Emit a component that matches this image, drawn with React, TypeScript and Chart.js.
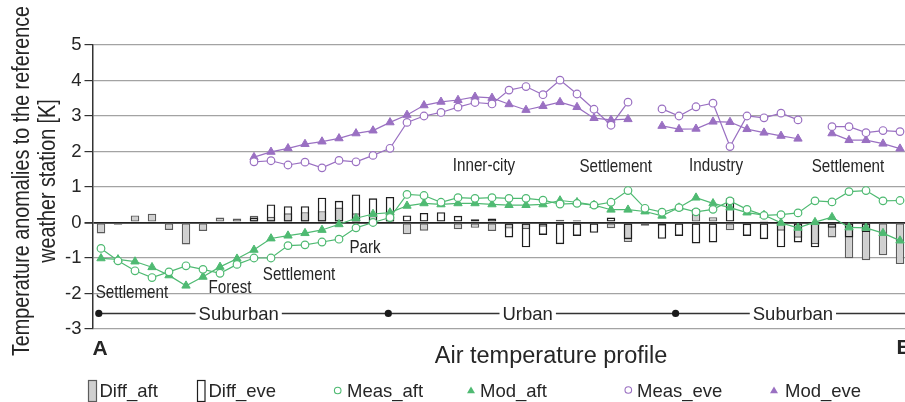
import React, { useEffect, useRef } from 'react';
import { Chart, registerables } from 'chart.js';

Chart.register(...registerables);

// ---------- data ----------
const positions: string[] = Array.from({ length: 48 }, (_, i) => `P${i + 1}`);

const measAft: (number | null)[] = [
  -0.73, -1.08, -1.36, -1.55, -1.39, -1.22, -1.32, -1.43, -1.18, -1.0,
  -1.0, -0.65, -0.63, -0.55, -0.47, -0.15, 0.0, 0.14, 0.79, 0.76,
  0.57, 0.7, 0.68, 0.7, 0.68, 0.68, 0.63, 0.52, 0.54, 0.49,
  0.57, 0.9, 0.4, 0.29, 0.42, 0.3, 0.37, 0.61, 0.37, 0.2,
  0.22, 0.27, 0.61, 0.58, 0.87, 0.9, 0.61, 0.62,
];

const modAft: (number | null)[] = [
  -1.01, -1.04, -1.1, -1.26, -1.49, -1.78, -1.53, -1.25, -1.02, -0.77,
  -0.45, -0.37, -0.3, -0.21, -0.05, 0.12, 0.24, 0.28, 0.47, 0.54,
  0.51, 0.54, 0.54, 0.51, 0.49, 0.49, 0.51, 0.62, 0.57, 0.49,
  0.36, 0.36, 0.31, 0.19, 0.42, 0.7, 0.54, 0.42, 0.28, 0.21,
  -0.01, -0.15, 0.01, 0.15, -0.14, -0.15, -0.3, -0.51,
];

const measEve: (number | null)[] = [
  null, null, null, null, null, null, null, null, null,
  1.71, 1.74, 1.62, 1.7, 1.54, 1.75, 1.71, 1.89, 2.09, 2.82,
  3.0, 3.1, 3.25, 3.38, 3.34, 3.73, 3.83, 3.6, 4.01, 3.62,
  3.19, 2.74, 3.39, null, 3.2, 3.0, 3.26, 3.36, 2.14, 3.0,
  2.95, 3.08, 2.89, null, 2.7, 2.7, 2.53, 2.59, 2.56,
];

const modEve: (number | null)[] = [
  null, null, null, null, null, null, null, null, null,
  1.84, 1.99, 2.09, 2.21, 2.28, 2.37, 2.51, 2.59, 2.82, 3.03,
  3.3, 3.4, 3.45, 3.54, 3.51, 3.33, 3.17, 3.28, 3.39, 3.25,
  2.94, 2.89, 2.91, null, 2.72, 2.63, 2.64, 2.84, 2.83, 2.63,
  2.53, 2.44, 2.36, null, 2.51, 2.32, 2.32, 2.22, 2.08,
];

const diffAft: (number | null)[] = [
  -0.31, -0.06, 0.2, 0.25, -0.21, -0.62, -0.24, 0.14, 0.11, 0.19,
  0.16, 0.26, 0.29, 0.32, 0.42, 0.26, 0.22, 0.12, -0.33, -0.23,
  -0.04, -0.19, -0.15, -0.24, -0.17, -0.19, -0.12, 0.08, 0.06, 0.03,
  -0.16, -0.55, -0.09, -0.09, 0.0, 0.38, 0.15, -0.22, -0.08, 0.05,
  -0.23, -0.43, -0.61, -0.42, -1.01, -1.06, -0.92, -1.17,
];

const diffEve: (number | null)[] = [
  null, null, null, null, null, null, null, null, null,
  0.14,
  0.51, 0.46, 0.46, 0.7, 0.61, 0.79, 0.68, 0.72, 0.2, 0.27,
  0.29, 0.19, 0.09, 0.11, -0.42, -0.7, -0.35, -0.61, -0.38, -0.29,
  0.14, -0.47, null, -0.46, -0.38, -0.59, -0.56, 0.68, -0.38, -0.47,
  -0.7, -0.56, -0.7, -0.15, -0.42, -0.27, null, null,
];

const yMin = -3;
const yMax = 5;
const yStep = 1;

const yTitleLines = ['Temperature anomalies to the reference', 'weather station [K]'];
const xTitle = 'Air temperature profile';
const startLabel = 'A';
const endLabel = 'E';

const areaLabels = ['Settlement', 'Forest', 'Settlement', 'Park', 'Inner-city', 'Settlement', 'Industry', 'Settlement'];
const areaLabelX = [1.82, 7.59, 11.65, 15.53, 22.53, 30.28, 36.18, 43.94];
const areaLabelY = [-1.93, -1.81, -1.43, -0.66, 1.65, 1.62, 1.64, 1.62];

const zoneNames = ['Suburban', 'Urban', 'Suburban'];
const zoneStarts = [-0.13, 16.9, 33.8];
const zoneLabelX = [8.1, 25.1, 40.7];
const zoneLineY = -2.56;

const legendLabels = ['Diff_aft', 'Diff_eve', 'Meas_aft', 'Mod_aft', 'Meas_eve', 'Mod_eve'];

// ---------- styles ----------
const FONT = "'Liberation Sans', Arial, Helvetica, sans-serif";
const TEXT = '#262626';
const GREEN = '#4fba72';
const PURPLE = '#9a70c2';
const BAR_FILL = '#d0d0d0';
const BAR_EDGE = '#5c5c5c';
const EVE_EDGE = '#1e1e1e';

function drawTriangle(ctx: CanvasRenderingContext2D, x: number, y: number, r: number) {
  ctx.beginPath();
  ctx.moveTo(x, y - r);
  ctx.lineTo(x + r * 0.866, y + r * 0.5);
  ctx.lineTo(x - r * 0.866, y + r * 0.5);
  ctx.closePath();
  ctx.fill();
}

const decorPlugin = {
  id: 'decor',
  afterDraw(chart: any) {
    const { ctx, chartArea, scales } = chart;
    const xs = scales.x;
    const ys = scales.y;
    ctx.save();
    ctx.fillStyle = TEXT;

    // y-axis title (condensed)
    const midY = (chartArea.top + chartArea.bottom) / 2 - 6;
    ctx.font = `23.5px ${FONT}`;
    ctx.textAlign = 'center';
    ctx.textBaseline = 'alphabetic';
    const titleBase = [29, 54.5];
    yTitleLines.forEach((t, i) => {
      ctx.save();
      ctx.translate(titleBase[i], midY);
      ctx.rotate(-Math.PI / 2);
      ctx.scale(0.84, 1);
      ctx.fillText(t, 0, 0);
      ctx.restore();
    });

    // area annotations (condensed)
    ctx.font = `18.5px ${FONT}`;
    ctx.textAlign = 'center';
    ctx.textBaseline = 'alphabetic';
    areaLabels.forEach((t, i) => {
      const px = xs.getPixelForValue(areaLabelX[i]);
      const py = ys.getPixelForValue(areaLabelY[i]);
      ctx.save();
      ctx.translate(px, py + 6.6);
      ctx.scale(0.82, 1);
      ctx.fillText(t, 0, 0);
      ctx.restore();
    });

    // zone line
    const ly = ys.getPixelForValue(zoneLineY);
    ctx.font = `18.5px ${FONT}`;
    const gaps = zoneNames.map((t, i) => {
      const cx = xs.getPixelForValue(zoneLabelX[i]);
      const w = ctx.measureText(t).width;
      return [cx - w / 2 - 3, cx + w / 2 + 3];
    });
    ctx.strokeStyle = '#333';
    ctx.lineWidth = 1.5;
    ctx.beginPath();
    let cur = xs.getPixelForValue(zoneStarts[0]);
    gaps.forEach(([a, b]) => {
      ctx.moveTo(cur, ly);
      ctx.lineTo(a, ly);
      cur = b;
    });
    ctx.moveTo(cur, ly);
    ctx.lineTo(chartArea.right + 10, ly);
    ctx.stroke();
    ctx.fillStyle = '#1a1a1a';
    zoneStarts.forEach((v) => {
      ctx.beginPath();
      ctx.arc(xs.getPixelForValue(v), ly, 3.6, 0, Math.PI * 2);
      ctx.fill();
    });
    ctx.fillStyle = TEXT;
    ctx.textAlign = 'center';
    ctx.textBaseline = 'alphabetic';
    zoneNames.forEach((t, i) => {
      ctx.fillText(t, xs.getPixelForValue(zoneLabelX[i]), ly + 6.7);
    });

    // A / E / axis title
    ctx.font = `bold 21px ${FONT}`;
    ctx.textAlign = 'left';
    ctx.fillText(startLabel, chartArea.left, 355);
    ctx.textAlign = 'right';
    ctx.fillText(endLabel, chartArea.right + 2, 354);
    ctx.font = `23.5px ${FONT}`;
    ctx.textAlign = 'center';
    ctx.fillText(xTitle, 551, 363);

    // legend
    ctx.font = `18.5px ${FONT}`;
    ctx.textAlign = 'left';
    ctx.textBaseline = 'alphabetic';
    const ty = 397;
    const textX = [99.5, 208.5, 347, 480, 637, 785];
    ctx.fillStyle = BAR_FILL;
    ctx.fillRect(88.5, 380.5, 8, 21);
    ctx.strokeStyle = BAR_EDGE;
    ctx.lineWidth = 1.2;
    ctx.strokeRect(88.5, 380.5, 8, 21);
    ctx.fillStyle = '#fff';
    ctx.fillRect(197.5, 380.5, 7.5, 21);
    ctx.strokeStyle = EVE_EDGE;
    ctx.strokeRect(197.5, 380.5, 7.5, 21);
    ctx.lineWidth = 1.1;
    ctx.strokeStyle = GREEN;
    ctx.fillStyle = '#fff';
    ctx.beginPath();
    ctx.arc(337.7, 390.5, 3.3, 0, Math.PI * 2);
    ctx.fill();
    ctx.stroke();
    ctx.fillStyle = GREEN;
    drawTriangle(ctx, 471, 391, 4.6);
    ctx.strokeStyle = PURPLE;
    ctx.fillStyle = '#fff';
    ctx.beginPath();
    ctx.arc(628.3, 390, 3.3, 0, Math.PI * 2);
    ctx.fill();
    ctx.stroke();
    ctx.fillStyle = PURPLE;
    drawTriangle(ctx, 774, 391, 4.6);
    ctx.fillStyle = TEXT;
    legendLabels.forEach((t, i) => ctx.fillText(t, textX[i], ty));

    ctx.restore();
  },
};

export default function App() {
  const ref = useRef<HTMLCanvasElement | null>(null);

  useEffect(() => {
    if (!ref.current) return;
    const chart = new Chart(ref.current, {
      type: 'bar',
      data: {
        labels: positions,
        datasets: [
          {
            type: 'line',
            label: 'Meas_aft',
            data: measAft,
            borderColor: GREEN,
            backgroundColor: '#ffffff',
            pointBackgroundColor: '#ffffff',
            pointBorderColor: GREEN,
            pointStyle: 'circle',
            pointRadius: 3.8,
            pointBorderWidth: 1.2,
            borderWidth: 1.2,
            order: 1,
          } as any,
          {
            type: 'line',
            label: 'Mod_aft',
            data: modAft,
            borderColor: GREEN,
            backgroundColor: GREEN,
            pointBackgroundColor: GREEN,
            pointBorderColor: GREEN,
            pointStyle: 'triangle',
            pointRadius: 4.8,
            pointBorderWidth: 1,
            borderWidth: 1.2,
            order: 1,
          } as any,
          {
            type: 'line',
            label: 'Meas_eve',
            data: measEve,
            borderColor: PURPLE,
            backgroundColor: '#ffffff',
            pointBackgroundColor: '#ffffff',
            pointBorderColor: PURPLE,
            pointStyle: 'circle',
            pointRadius: 3.8,
            pointBorderWidth: 1.2,
            borderWidth: 1.2,
            order: 1,
          } as any,
          {
            type: 'line',
            label: 'Mod_eve',
            data: modEve,
            borderColor: PURPLE,
            backgroundColor: PURPLE,
            pointBackgroundColor: PURPLE,
            pointBorderColor: PURPLE,
            pointStyle: 'triangle',
            pointRadius: 4.8,
            pointBorderWidth: 1,
            borderWidth: 1.2,
            order: 1,
          } as any,
          {
            type: 'bar',
            label: 'Diff_eve',
            data: diffEve,
            backgroundColor: 'rgba(0,0,0,0)',
            borderColor: EVE_EDGE,
            borderWidth: 1.4,
            borderSkipped: false,
            grouped: false,
            barPercentage: 0.5,
            categoryPercentage: 1,
            order: 2,
          } as any,
          {
            type: 'bar',
            label: 'Diff_aft',
            data: diffAft,
            backgroundColor: BAR_FILL,
            borderColor: BAR_EDGE,
            borderWidth: 1.4,
            borderSkipped: false,
            grouped: false,
            barPercentage: 0.5,
            categoryPercentage: 1,
            order: 3,
          } as any,
        ],
      },
      options: {
        animation: false,
        responsive: false,
        devicePixelRatio: 1,
        layout: { padding: { left: 0, top: 45, right: 6.5, bottom: 73 } },
        plugins: {
          legend: { display: false },
          tooltip: { enabled: false },
        },
        elements: { line: { tension: 0 } },
        scales: {
          x: {
            display: false,
            offset: true,
            grid: { display: false },
          },
          y: {
            min: yMin,
            max: yMax,
            ticks: {
              stepSize: yStep,
              padding: 3,
              color: TEXT,
              font: { family: FONT, size: 18.5 },
            },
            grid: {
              color: (c: any) => (c.tick && c.tick.value === 0 ? '#222222' : '#a3a3a3'),
              lineWidth: (c: any) => (c.tick && c.tick.value === 0 ? 1.8 : 1.2),
              tickColor: '#333333',
              tickLength: 8,
              drawTicks: true,
            },
            border: { color: '#333333', width: 1.5 },
            afterFit: (s: any) => {
              s.width = 92.5;
            },
          },
        },
      } as any,
      plugins: [decorPlugin],
    });
    return () => chart.destroy();
  }, []);

  return (
    <div
      style={{
        position: 'fixed',
        left: 0,
        top: 0,
        width: 905,
        height: 402,
        overflow: 'hidden',
        background: '#ffffff',
      }}
    >
      <canvas ref={ref} width={915} height={402} style={{ display: 'block', width: 915, height: 402 }} />
    </div>
  );
}
